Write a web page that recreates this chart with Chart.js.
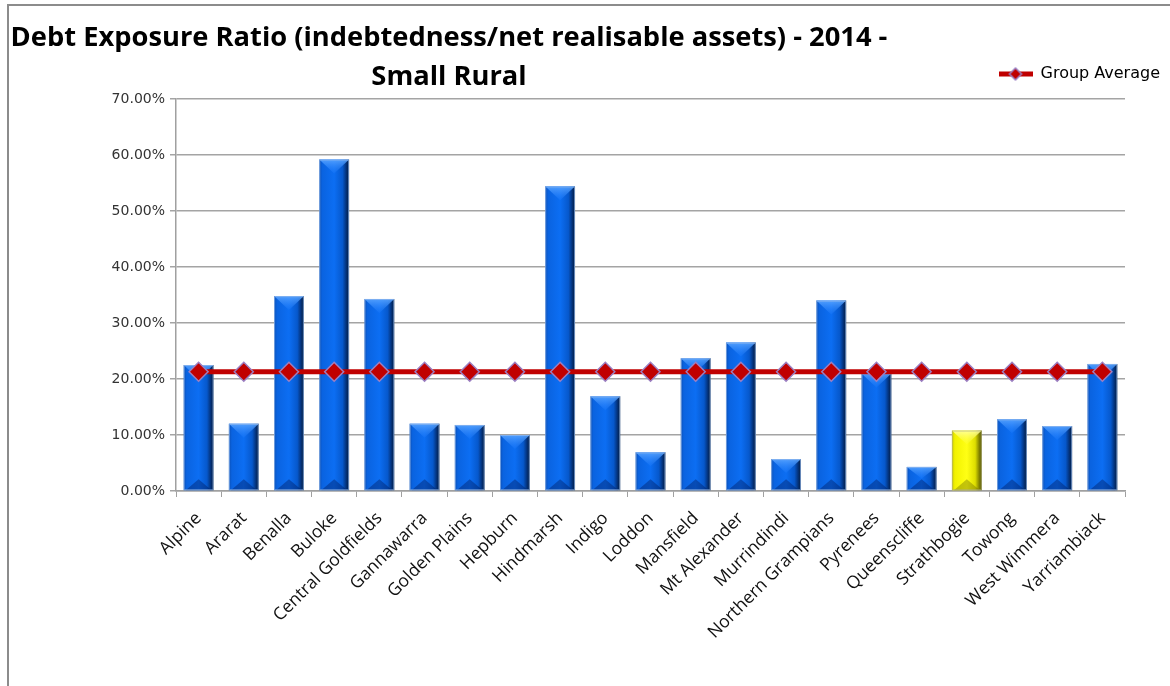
<!DOCTYPE html>
<html>
<head>
<meta charset="utf-8">
<title>Debt Exposure Ratio - Small Rural</title>
<script src="https://cdn.jsdelivr.net/npm/chart.js@4/dist/chart.umd.min.js"></script>
<style>
	html, body { margin: 0; padding: 0; background: #fff; }
	#wrap { position: relative; width: 1170px; height: 686px; overflow: hidden; }
	#frame {
		position: absolute; left: 7px; top: 4px; right: -4px; bottom: -4px;
		border-left: 2px solid #8c8c8c; border-top: 2px solid #8c8c8c;
		pointer-events: none;
	}
	canvas { position: absolute; left: 0; top: 0; }
</style>
</head>
<body>
<div id="wrap">
	<canvas id="chart" width="1170" height="686"></canvas>
	<div id="frame"></div>
</div>
<script>
const councils = [
	'Alpine', 'Ararat', 'Benalla', 'Buloke', 'Central Goldfields', 'Gannawarra',
	'Golden Plains', 'Hepburn', 'Hindmarsh', 'Indigo', 'Loddon', 'Mansfield',
	'Mt Alexander', 'Murrindindi', 'Northern Grampians', 'Pyrenees', 'Queenscliffe',
	'Strathbogie', 'Towong', 'West Wimmera', 'Yarriambiack'
];
const debtRatio = [
	0.225, 0.120, 0.348, 0.592, 0.343, 0.120, 0.118,
	0.100, 0.544, 0.169, 0.069, 0.237, 0.265, 0.057,
	0.340, 0.210, 0.043, 0.108, 0.128, 0.116, 0.227
];
const groupAverage = [
	0.213, 0.213, 0.213, 0.213, 0.213, 0.213, 0.213,
	0.213, 0.213, 0.213, 0.213, 0.213, 0.213, 0.213,
	0.213, 0.213, 0.213, 0.213, 0.213, 0.213, 0.213
];
const highlighted = 'Strathbogie';
const yTicks = [0, 0.1, 0.2, 0.3, 0.4, 0.5, 0.6, 0.7];

const titleLines = [
	'Debt Exposure Ratio (indebtedness/net realisable assets) - 2014 -',
	'Small Rural'
];

const RED = '#c00000';
const DIAMOND_EDGE = '#9b7fc2';
const BAR_PCT = 0.66;

// colour stops for the bevelled bars, left to right
const blueStops = [[0, '#0b4fb5'], [0.1, '#0a63e0'], [0.5, '#0c6ef3'], [0.78, '#0658cc'], [0.9, '#04337c'], [1, '#021b3f']];
const yellowStops = [[0, '#c9c900'], [0.1, '#f2f200'], [0.5, '#ffff14'], [0.78, '#dede00'], [0.9, '#8c8c00'], [1, '#4c4c00']];

function isHighlighted(i) {
	return councils[i] === highlighted;
}

function barFill(context) {
	const chart = context.chart;
	const x = chart.scales.x;
	const fallback = isHighlighted(context.dataIndex) ? '#f2f200' : '#0a63e0';
	if (!x || context.dataIndex === undefined || !x.width) return fallback;
	const cx = x.getPixelForValue(context.dataIndex);
	const half = (x.width / councils.length) * BAR_PCT / 2;
	if (!isFinite(cx) || !isFinite(half)) return fallback;
	const grad = chart.ctx.createLinearGradient(cx - half, 0, cx + half, 0);
	const stops = isHighlighted(context.dataIndex) ? yellowStops : blueStops;
	stops.forEach(([pos, col]) => grad.addColorStop(pos, col));
	return grad;
}

// legend swatch: thick red line with a diamond in the middle
function legendSwatch() {
	const c = document.createElement('canvas');
	c.width = 34;
	c.height = 16;
	const g = c.getContext('2d');
	g.strokeStyle = RED;
	g.lineWidth = 5;
	g.beginPath();
	g.moveTo(0, 8);
	g.lineTo(34, 8);
	g.stroke();
	g.beginPath();
	g.moveTo(17, 2);
	g.lineTo(23, 8);
	g.lineTo(17, 14);
	g.lineTo(11, 8);
	g.closePath();
	g.fillStyle = RED;
	g.fill();
	g.lineWidth = 1.5;
	g.strokeStyle = DIAMOND_EDGE;
	g.stroke();
	return c;
}

// chamfered top and bottom faces on each bar
const bevelPlugin = {
	id: 'bevel',
	afterDatasetDraw(chart, args) {
		if (chart.data.datasets[args.index].type !== 'bar') return;
		const ctx = chart.ctx;
		args.meta.data.forEach((bar, i) => {
			const { x, y, base, width } = bar.getProps(['x', 'y', 'base', 'width']);
			if (![x, y, base, width].every(isFinite)) return;
			const left = x - width / 2;
			const right = x + width / 2;
			const h = base - y;
			const bev = Math.min(14, h / 2);
			const yellow = isHighlighted(i);
			ctx.save();
			// top face
			ctx.beginPath();
			ctx.moveTo(left, y);
			ctx.lineTo(right, y);
			ctx.lineTo(x, y + bev);
			ctx.closePath();
			const tg = ctx.createLinearGradient(0, y, 0, y + bev);
			tg.addColorStop(0, yellow ? 'rgba(255,255,170,0.9)' : 'rgba(90,165,255,0.9)');
			tg.addColorStop(1, yellow ? 'rgba(255,255,60,0.2)' : 'rgba(40,130,255,0.2)');
			ctx.fillStyle = tg;
			ctx.fill();
			// bottom face
			const bb = Math.min(11, h / 2);
			ctx.beginPath();
			ctx.moveTo(left + 2, base);
			ctx.lineTo(right - 2, base);
			ctx.lineTo(x, base - bb);
			ctx.closePath();
			ctx.fillStyle = yellow ? 'rgba(90,90,0,0.35)' : 'rgba(0,25,90,0.4)';
			ctx.fill();
			// light rim
			ctx.strokeStyle = yellow ? 'rgba(180,180,120,0.7)' : 'rgba(150,185,235,0.7)';
			ctx.lineWidth = 1;
			ctx.strokeRect(left + 0.5, y + 0.5, width - 1, h - 1);
			ctx.restore();
		});
	}
};

// legend sits a little higher and further right than the layout would put it
const legendNudge = {
	id: 'legendNudge',
	afterLayout(chart) {
		const lg = chart.legend;
		if (!lg) return;
		lg.top -= 7;
		lg.bottom -= 7;
		lg.left += 39;
		lg.right += 39;
		if (lg.legendHitBoxes) {
			lg.legendHitBoxes.forEach((b) => { b.top -= 7; b.left += 39; });
		}
	}
};

const titlePlugin = {
	id: 'twoLineTitle',
	afterDraw(chart) {
		const ctx = chart.ctx;
		ctx.save();
		ctx.fillStyle = '#000';
		ctx.textAlign = 'center';
		ctx.textBaseline = 'alphabetic';
		// size the first line to span the same width as the heading block
		ctx.font = 'bold 26px "Open Sans"';
		const size = Math.min(28, 26 * 877 / ctx.measureText(titleLines[0]).width);
		ctx.font = `bold ${size.toFixed(1)}px "Open Sans"`;
		ctx.fillText(titleLines[0], 449, 46);
		ctx.fillText(titleLines[1], 449, 85);
		ctx.restore();
	}
};

const swatch = legendSwatch();

new Chart(document.getElementById('chart'), {
	data: {
		labels: councils,
		datasets: [
			{
				type: 'line',
				label: 'Group Average',
				data: groupAverage,
				order: 0,
				borderColor: RED,
				borderWidth: 5,
				pointStyle: 'rectRot',
				pointRadius: 9.5,
				pointBackgroundColor: RED,
				pointBorderColor: DIAMOND_EDGE,
				pointBorderWidth: 1.5,
				tension: 0,
			},
			{
				type: 'bar',
				label: 'Debt Exposure Ratio',
				data: debtRatio,
				order: 1,
				backgroundColor: barFill,
				borderWidth: 0,
				barPercentage: BAR_PCT,
				categoryPercentage: 1,
			},
		],
	},
	options: {
		responsive: false,
		animation: false,
		layout: { padding: { top: 69, right: 45, left: 0, bottom: 0 } },
		plugins: {
			tooltip: { enabled: false },
			title: { display: false },
			legend: {
				position: 'top',
				align: 'end',
				labels: {
					usePointStyle: true,
					pointStyleWidth: 34,
					color: '#404040',
					font: { family: 'DejaVu Sans', size: 16 },
					padding: 4,
					generateLabels() {
						return [{
							text: 'Group Average',
							datasetIndex: 0,
							pointStyle: swatch,
							fillStyle: RED,
							strokeStyle: RED,
							lineWidth: 0,
							hidden: false,
						}];
					},
				},
			},
		},
		scales: {
			x: {
				offset: true,
				grid: {
					offset: true,
					drawOnChartArea: false,
					drawTicks: true,
					tickLength: 6,
					color: '#a0a0a0',
				},
				border: { color: '#a0a0a0', width: 1.5 },
				ticks: {
					autoSkip: false,
					minRotation: 45,
					maxRotation: 45,
					color: '#111',
					padding: 11,
					font: { family: 'Open Sans', size: 17.5 },
				},
				afterFit(scale) { scale.height = 195; },
			},
			y: {
				min: 0,
				max: 0.7,
				afterBuildTicks(scale) {
					scale.ticks = yTicks.map((v) => ({ value: v }));
				},
				grid: {
					color: '#a4a4a4',
					lineWidth: 1.5,
					tickLength: 6,
				},
				border: { color: '#a0a0a0', width: 1.5 },
				ticks: {
					color: '#333',
					padding: 5,
					font: { family: 'DejaVu Sans', size: 14 },
					callback: (value) => (value * 100).toFixed(2) + '%',
				},
				afterFit(scale) { scale.width = 176; },
			},
		},
	},
	plugins: [bevelPlugin, legendNudge, titlePlugin],
});
</script>
</body>
</html>
